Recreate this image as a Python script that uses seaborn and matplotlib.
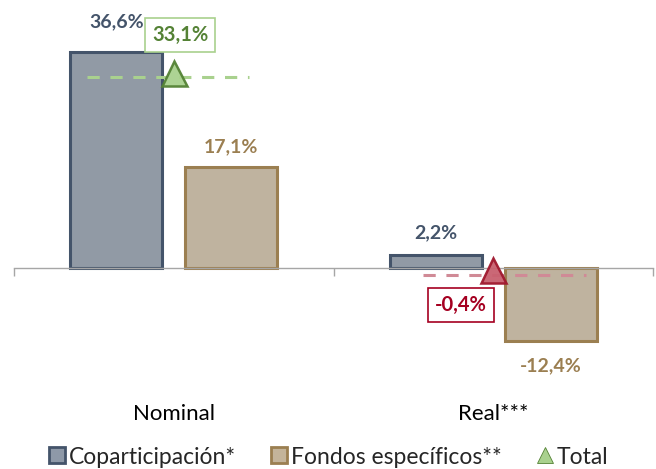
import pandas as pd
import matplotlib.pyplot as plt
from matplotlib.lines import Line2D
import seaborn as sns

# datos
PERIODOS = ["Nominal", "Real***"]
SERIES = ["Coparticipación*", "Fondos específicos**"]
COPARTICIPACION = [36.6, 2.2]
FONDOS = [17.1, -12.4]
TOTAL = [33.1, -0.4]
ETIQ_COPA = ["36,6%", "2,2%"]
ETIQ_FONDOS = ["17,1%", "-12,4%"]
ETIQ_TOTAL = ["33,1%", "-0,4%"]

FILL = ["#8E99A8", "#C4B49A"]
EDGE = ["#44546A", "#9B7F51"]
TOT_FILL = ["#A9D18E", "#C8606F"]
TOT_EDGE = ["#548235", "#A0182E"]
TOT_LINE = ["#A9D18E", "#D08A96"]
TOT_TEXT = ["#548235", "#A50021"]
TOT_BOX = ["#A9D18E", "#A50021"]

sns.set_theme(style="white")
plt.rcParams["font.family"] = ["Lato", "DejaVu Sans"]

df = pd.DataFrame({
    "periodo": PERIODOS * 2,
    "serie": [SERIES[0]] * 2 + [SERIES[1]] * 2,
    "valor": COPARTICIPACION + FONDOS,
})

fig = plt.figure(figsize=(6.56, 4.69), dpi=100)
ax = fig.add_axes([14 / 656, 99 / 469, 639 / 656, 370 / 469])

sns.barplot(data=df, x="periodo", y="valor", hue="serie", hue_order=SERIES,
            palette=FILL, width=0.72, gap=0.2, legend=False, ax=ax)
for cont, ec in zip(ax.containers, EDGE):
    for bar in cont:
        bar.set_edgecolor(ec)
        bar.set_linewidth(2.2)

# etiquetas de las barras
for i, (v, t) in enumerate(zip(COPARTICIPACION, ETIQ_COPA)):
    off = 5.1 if i == 0 else 3.7
    ax.text(i - 0.18, v + off, t, ha="center", va="center", fontsize=14,
            fontweight="bold", color=EDGE[0])
for i, (v, t) in enumerate(zip(FONDOS, ETIQ_FONDOS)):
    off = 3.4 if v >= 0 else -4.2
    ax.text(i + 0.18, v + off, t, ha="center", va="center", fontsize=14,
            fontweight="bold", color=EDGE[1])

# total: línea punteada + triángulo
line_ext = [(-0.27, 0.235), (-0.22, 0.29)]
for i, v in enumerate(TOTAL):
    x0, x1 = line_ext[i]
    ax.hlines(v - 0.8, i + x0, i + x1, colors=TOT_LINE[i], linestyles=(0, (4, 3.5)),
              linewidth=2.2, zorder=4)
    ax.plot(i, v, marker="^", ms=18, mfc=TOT_FILL[i], mec=TOT_EDGE[i], mew=1.8,
            zorder=5, alpha=0.95)

lbl_pos = [(0.02, 39.4), (0.9, -6.3)]
for i, t in enumerate(ETIQ_TOTAL):
    x, y = lbl_pos[i]
    ax.text(x, y, t, ha="center", va="center", fontsize=14.5, fontweight="bold",
            color=TOT_TEXT[i],
            bbox=dict(boxstyle="square,pad=0.35", fc="white", ec=TOT_BOX[i], lw=1.2),
            zorder=6)

ax.set_xlim(-0.5, 1.5)
ax.set_ylim(-17.3, 45.4)
for s in ["top", "left", "right"]:
    ax.spines[s].set_visible(False)
ax.spines["bottom"].set_position(("data", 0))
ax.spines["bottom"].set_color("#A6A6A6")
ax.spines["bottom"].set_linewidth(1)
ax.set_yticks([])
ax.set_xticks([0, 1], PERIODOS)
ax.set_xticks([-0.5, 0.5, 1.5], minor=True)
ax.tick_params(axis="x", which="major", length=0, pad=98, labelsize=16, labelcolor="#000000")
ax.tick_params(axis="x", which="minor", length=6, width=1, color="#A6A6A6", direction="out", bottom=True)
ax.set_xlabel("")
ax.set_ylabel("")

handles = [
    Line2D([], [], ls="none", marker="s", ms=11, mfc=FILL[0], mec=EDGE[0], mew=2),
    Line2D([], [], ls="none", marker="s", ms=11, mfc=FILL[1], mec=EDGE[1], mew=2),
    Line2D([], [], ls="none", marker="^", ms=11, mfc=TOT_FILL[0], mec=TOT_EDGE[0], mew=0.6),
]
fig.legend(handles, SERIES + ["Total"], loc="center", bbox_to_anchor=(328 / 656, 12 / 469),
           ncol=3, frameon=False, fontsize=16.5, handletextpad=0.1, columnspacing=1.5,
           handlelength=0.8, borderpad=0, borderaxespad=0)

fig.savefig("out.png", dpi=100)
